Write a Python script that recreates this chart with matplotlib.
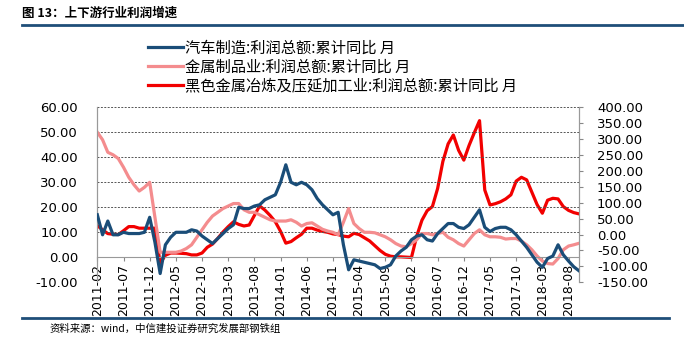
import pandas as pd
import matplotlib
matplotlib.use("Agg")
import matplotlib.pyplot as plt
from matplotlib.lines import Line2D

plt.rcParams['font.family'] = ['DejaVu Sans', 'Noto Sans CJK SC']
CJK = ['Noto Sans CJK SC', 'DejaVu Sans']

# monthly categories 2011-02 .. 2018-10
months = [str(p) for p in pd.period_range('2011-02', '2018-10', freq='M')]

# 汽车制造 (left axis)
auto = [17, 9, 14.5, 9, 9, 10, 9.5, 9.5, 9.5, 10,
        16, 6, -6.5, 5, 8, 10, 10, 10, 11, 10.5,
        8.5, 7, 5.5, 7.5, 9.5, 11.5, 13, 20, 19.5, 19.5,
        20.5, 21, 23, 24, 25, 30, 37, 30, 29, 30,
        29, 27, 23.5, 21, 19, 17, 18, 5, -5, -1,
        -1.5, -2, -2.5, -3, -4.5, -4, -3, 0.5, 2.5, 4,
        7, 8.5, 9, 7, 6.5, 9.5, 11.5, 13.5, 13.5, 12,
        11.5, 13, 16, 19, 12, 10.3, 11.5, 12, 12, 11,
        9, 6.5, 4, 1, -2, -4, -0.5, 0.5, 5, 1,
        -1.5, -3.8, -5.4]

# 金属制品业 (left axis)
metal = [50, 47, 42, 41, 39.5, 36, 32, 29, 26.5, 28,
         30, 16, 2, 2, 2, 2, 2.5, 3.5, 5, 8,
         11, 14, 16.5, 18, 19.5, 20.5, 21.5, 21.5, 19, 18,
         18, 17, 16, 15, 14.5, 14.5, 14.5, 15, 14, 12.5,
         13.5, 13.8, 12.5, 11.2, 10.5, 10, 9, 14, 19.5, 13.5,
         11.5, 10, 10, 9.8, 9, 8.2, 7, 5.5, 4.5, 4.2,
         5.5, 7, 9.5, 9.5, 9, 9.5, 10, 8, 7, 5.5,
         4.5, 7, 9.5, 11, 9, 8.2, 8.2, 8, 7.3, 7.5,
         7.5, 6.5, 5, 3, 0.5, -1.5, -2.5, -2.7, -0.5, 3,
         4.5, 5, 5.6]

# 黑色金属冶炼及压延加工业 (right axis)
steel = [28, 15, 3, 1, 0, 12, 25, 25, 20, 20,
         20, 20, -90, -65, -58, -58, -59, -60, -64, -64,
         -58, -40, -30, -12, 8, 25, 40, 32, 27, 30,
         60, 90, 77, 60, 40, 10, -27, -22, -10, 1,
         20, 20, 14, 10, 7, 2, 0, -5, -7, 4,
         0, -10, -20, -35, -50, -62, -68, -70, -70, -71,
         -72, -5, 45, 75, 88, 145, 230, 285, 313, 265,
         234, 280, 320, 358, 140, 93, 97, 103, 112, 125,
         168, 180, 172, 133, 94, 67, 108, 114, 112, 88,
         76, 69, 65]

labels = ['汽车制造:利润总额:累计同比 月',
          '金属制品业:利润总额:累计同比 月',
          '黑色金属冶炼及压延加工业:利润总额:累计同比 月']
colors = ['#1A4D78', '#F48C8E', '#F20000']

left_ticks = [-10, 0, 10, 20, 30, 40, 50, 60]
right_ticks = list(range(-150, 401, 50))

fig = plt.figure(figsize=(6.84, 3.39), dpi=100)
ax = fig.add_axes([0.1423, 0.1673, 0.7042, 0.5162])
ax2 = ax.twinx()

x = list(range(len(months)))
ax.plot(x, auto, color=colors[0], lw=2.3, zorder=3)
ax.plot(x, metal, color=colors[1], lw=2.3, zorder=2)
ax2.plot(x, steel, color=colors[2], lw=2.3)

ax.set_zorder(ax2.get_zorder() + 1)
ax.patch.set_visible(False)

ax.set_xlim(0, len(months) - 1)
ax.set_ylim(-10, 60)
ax2.set_ylim(-150, 400)

ax.set_yticks(left_ticks)
ax.set_yticklabels([f'{v:.2f}' for v in left_ticks], fontsize=9.5)
ax2.set_yticks(right_ticks)
ax2.set_yticklabels([f'{v:.2f}' for v in right_ticks], fontsize=9.5)
ax.tick_params(axis='y', length=0, pad=14)
ax2.tick_params(axis='y', length=3, color='#888888', pad=10)

ax.set_xticks(x[::5])
ax.set_xticklabels(months[::5])
ax.tick_params(axis='x', length=3, color='#888888', pad=2,
               labelrotation=90, labelsize=9)

ax.grid(axis='y', linestyle=(0, (2, 1.5)), color='#555555', lw=0.7)
for a in (ax, ax2):
    a.spines['top'].set_visible(False)
    a.spines['left'].set_color('#999999')
    a.spines['right'].set_color('#999999')
ax2.spines['bottom'].set_visible(False)
ax.spines['bottom'].set_position(('data', 0))
ax.spines['bottom'].set_color('#999999')

handles = [Line2D([], [], color=c, lw=2.3) for c in colors]
fig.legend(handles, labels, loc='upper left',
           bbox_to_anchor=(0.205, 0.905), frameon=False,
           prop={'family': CJK, 'size': 11}, handlelength=2.3,
           handletextpad=0.15, labelspacing=0.12, borderpad=0)

# title and rules
fig.text(0.032, 0.962, '图 13：上下游行业利润增速', family=CJK,
         fontsize=9, fontweight='bold', va='center', ha='left')
fig.add_artist(Line2D([0.032, 1.0], [0.926, 0.926], color='#1F4E79', lw=2))
fig.add_artist(Line2D([0.032, 0.978], [0.062, 0.062], color='#1F4E79', lw=2))
fig.text(0.073, 0.032, '资料来源：wind，中信建投证券研究发展部钢铁组',
         family=CJK, fontsize=7.5, style='italic', va='center', ha='left')

fig.savefig('out.png', dpi=100)
